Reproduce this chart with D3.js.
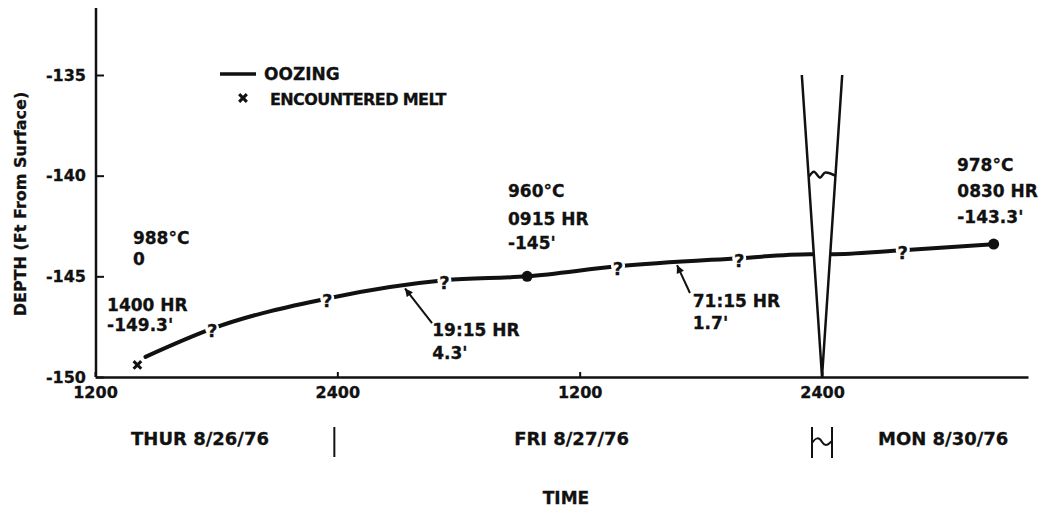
<!DOCTYPE html>
<html>
<head>
<meta charset="utf-8">
<script src="https://cdn.jsdelivr.net/npm/d3@7"></script>
<style>
body { margin: 0; background: #fff; }
text { font-family: "DejaVu Sans", sans-serif; font-weight: bold; fill: #111; stroke: #111; stroke-width: 0.3px; }
</style>
</head>
<body>
<script>
// hours after Thu 1200 (Mon 0000 is drawn right after Fri 2400, so Mon 0830 = 44.5)
var timeHr  = [2.5, 5.8, 11.5, 17.3, 21.4, 25.9, 31.9, 35.4, 36.4, 40.0, 44.5];
var depthFt = [-149.0, -147.6, -146.1, -145.2, -145.0, -144.5, -144.1, -143.9, -143.9, -143.7, -143.4];

var questionHr = [5.8, 11.5, 17.3, 25.9, 31.9, 40.0];   // "?" gaps on the curve
var dotHr = [21.4, 44.5];
var dotFt = [-145.0, -143.4];
var meltHr = [2.1];
var meltFt = [-149.4];

// oozing: the V and the level inside it
var oozeHr = [35.0, 36.0, 37.0];
var oozeFt = [-135, -150, -135];
var oozeLevelHr = [35.35, 35.6, 35.9, 36.15, 36.65];
var oozeLevelFt = [-140.05, -139.8, -140.1, -139.85, -140.0];

var xTicks = [0, 12, 24, 36];
var xTickLabels = ["1200", "2400", "1200", "2400"];
var yTicks = [-150, -145, -140, -135];

var dayLabels = ["THUR 8/26/76", "FRI 8/27/76", "MON 8/30/76"];
var dayHr = [5.2, 23.6, 42.0];

var noteText = ["988°C", "0", "1400 HR", "-149.3'", "19:15 HR", "4.3'",
                "960°C", "0915 HR", "-145'", "71:15 HR", "1.7'",
                "978°C", "0830 HR", "-143.3'"];
var noteHr = [1.88, 1.88, 0.6, 0.6, 16.7, 16.7, 20.45, 20.45, 20.45, 29.6, 29.6, 42.68, 42.7, 42.7];
var noteFt = [-143.12, -144.14, -146.42, -147.42, -147.67, -148.81,
              -140.76, -142.15, -143.34, -146.22, -147.32, -139.47, -140.76, -142.05];

// arrows: tail -> tip
var arrowTailHr = [16.69, 29.46];
var arrowTailFt = [-147.32, -145.83];
var arrowTipHr = [15.35, 28.82];
var arrowTipFt = [-145.6, -144.44];

var width = 1042, height = 512;

var xs = d3.scaleLinear().domain([0, 46.2]).range([95, 1028]);
var ys = d3.scaleLinear().domain([-150, -135]).range([377, 75]);
var depthAt = d3.scaleLinear().domain(timeHr).range(depthFt);

var svg = d3.select("body").append("svg")
    .attr("width", width)
    .attr("height", height);

var defs = svg.append("defs");

defs.append("marker")
    .attr("id", "head")
    .attr("viewBox", "0 0 10 10")
    .attr("refX", 10).attr("refY", 5)
    .attr("markerWidth", 9).attr("markerHeight", 8)
    .attr("markerUnits", "userSpaceOnUse")
    .attr("orient", "auto")
  .append("path")
    .attr("d", "M0,0L10,5L0,10z")
    .attr("fill", "#111");

// mask cuts the curve at the "?" and inside the V
var mask = defs.append("mask").attr("id", "gaps")
    .attr("maskUnits", "userSpaceOnUse")
    .attr("x", 0).attr("y", 0).attr("width", width).attr("height", height);
mask.append("rect").attr("width", width).attr("height", height).attr("fill", "white");
mask.selectAll("circle")
    .data(questionHr)
    .enter().append("circle")
    .attr("cx", d => xs(d))
    .attr("cy", d => ys(depthAt(d)))
    .attr("r", 7)
    .attr("fill", "black");
mask.append("path")
    .attr("d", "M" + oozeHr.map((h, i) => xs(h) + "," + ys(oozeFt[i])).join("L") + "Z")
    .attr("fill", "black");

// axes
var yAxis = d3.axisLeft(ys)
    .tickValues(yTicks)
    .tickFormat(d => "-" + Math.abs(d))
    .tickSizeInner(-8)
    .tickSizeOuter(0)
    .tickPadding(10);

var gy = svg.append("g")
    .attr("transform", "translate(96,0)")
    .call(yAxis);
gy.select(".domain").remove();
gy.selectAll("line").attr("stroke", "#111").attr("stroke-width", 2);
gy.selectAll("text").style("font-size", "16px").attr("fill", "#111");
gy.append("line")
    .attr("x1", 0).attr("x2", 0)
    .attr("y1", 8).attr("y2", ys(-150))
    .attr("stroke", "#111").attr("stroke-width", 2.5);

var xAxis = d3.axisBottom(xs)
    .tickValues(xTicks)
    .tickFormat((d, i) => xTickLabels[i])
    .tickSizeInner(-5)
    .tickSizeOuter(0)
    .tickPadding(10);

var gx = svg.append("g")
    .attr("transform", "translate(0," + ys(-150) + ")")
    .call(xAxis);
gx.select(".domain").attr("stroke", "#111").attr("stroke-width", 2.5);
gx.selectAll("line").attr("stroke", "#111").attr("stroke-width", 2);
gx.selectAll("text").style("font-size", "16px").attr("fill", "#111");

// main curve
var line = d3.line()
    .x(d => xs(d[0]))
    .y(d => ys(d[1]))
    .curve(d3.curveMonotoneX);

svg.append("path")
    .datum(timeHr.map((h, i) => [h, depthFt[i]]))
    .attr("d", line)
    .attr("fill", "none")
    .attr("stroke", "#111")
    .attr("stroke-width", 4)
    .attr("stroke-linecap", "round")
    .attr("mask", "url(#gaps)");

svg.selectAll(".q")
    .data(questionHr)
    .enter().append("text")
    .attr("class", "q")
    .attr("x", d => xs(d))
    .attr("y", d => ys(depthAt(d)) + 2)
    .attr("text-anchor", "middle")
    .attr("dominant-baseline", "central")
    .style("font-size", "18px")
    .text("?");

svg.selectAll(".dot")
    .data(dotHr)
    .enter().append("circle")
    .attr("class", "dot")
    .attr("cx", d => xs(d))
    .attr("cy", (d, i) => ys(dotFt[i]))
    .attr("r", 5.5)
    .attr("fill", "#111");

var xMark = d3.symbol().type(d3.symbolX).size(40);
svg.selectAll(".melt")
    .data(meltHr)
    .enter().append("path")
    .attr("class", "melt")
    .attr("d", xMark)
    .attr("transform", (d, i) => "translate(" + xs(d) + "," + ys(meltFt[i]) + ")")
    .attr("fill", "none")
    .attr("stroke", "#111")
    .attr("stroke-width", 3);

// oozing V
svg.append("path")
    .datum(oozeHr.map((h, i) => [h, oozeFt[i]]))
    .attr("d", d3.line().x(d => xs(d[0])).y(d => ys(d[1])))
    .attr("fill", "none")
    .attr("stroke", "#111")
    .attr("stroke-width", 2.5);

svg.append("path")
    .datum(oozeLevelHr.map((h, i) => [h, oozeLevelFt[i]]))
    .attr("d", d3.line().x(d => xs(d[0])).y(d => ys(d[1])).curve(d3.curveCatmullRom))
    .attr("fill", "none")
    .attr("stroke", "#111")
    .attr("stroke-width", 2.5);

// notes
svg.selectAll(".note")
    .data(noteText)
    .enter().append("text")
    .attr("class", "note")
    .attr("x", (d, i) => xs(noteHr[i]))
    .attr("y", (d, i) => ys(noteFt[i]))
    .attr("dominant-baseline", "central")
    .style("font-size", "17px")
    .text(d => d);

svg.selectAll(".arrow")
    .data(arrowTailHr)
    .enter().append("line")
    .attr("class", "arrow")
    .attr("x1", d => xs(d))
    .attr("y1", (d, i) => ys(arrowTailFt[i]))
    .attr("x2", (d, i) => xs(arrowTipHr[i]))
    .attr("y2", (d, i) => ys(arrowTipFt[i]))
    .attr("stroke", "#111")
    .attr("stroke-width", 2)
    .attr("marker-end", "url(#head)");

// legend
var legend = svg.append("g");
legend.append("line")
    .attr("x1", 220).attr("x2", 256)
    .attr("y1", 74).attr("y2", 74)
    .attr("stroke", "#111").attr("stroke-width", 3.5);
legend.append("text")
    .attr("x", 264).attr("y", 74)
    .attr("dominant-baseline", "central")
    .style("font-size", "17px")
    .text("OOZING");
legend.append("path")
    .attr("d", xMark)
    .attr("transform", "translate(243,98)")
    .attr("fill", "none").attr("stroke", "#111").attr("stroke-width", 3);
legend.append("text")
    .attr("x", 270).attr("y", 99)
    .attr("dominant-baseline", "central")
    .style("font-size", "16px")
    .style("letter-spacing", "-0.6px")
    .text("ENCOUNTERED MELT");

// day row
svg.selectAll(".day")
    .data(dayLabels)
    .enter().append("text")
    .attr("class", "day")
    .attr("x", (d, i) => xs(dayHr[i]))
    .attr("y", 438)
    .attr("text-anchor", "middle")
    .attr("dominant-baseline", "central")
    .style("font-size", "18px")
    .text(d => d);

svg.append("line")
    .attr("x1", xs(12) - 3).attr("x2", xs(12) - 3)
    .attr("y1", 427).attr("y2", 457)
    .attr("stroke", "#111").attr("stroke-width", 2);

var bx = xs(36);
svg.append("path")
    .attr("d", "M" + (bx - 10) + ",427V458M" + (bx + 10) + ",427V458" +
               "M" + (bx - 10) + ",443C" + (bx - 6) + ",437 " + (bx - 3) + ",437 " + bx + ",442" +
               "C" + (bx + 3) + ",447 " + (bx + 6) + ",445 " + (bx + 10) + ",441")
    .attr("fill", "none")
    .attr("stroke", "#111").attr("stroke-width", 2);

// axis titles
svg.append("text")
    .attr("transform", "translate(20,204) rotate(-90)")
    .attr("text-anchor", "middle")
    .attr("dominant-baseline", "central")
    .style("font-size", "16px")
    .text("DEPTH (Ft From Surface)");

svg.append("text")
    .attr("x", 566).attr("y", 498)
    .attr("text-anchor", "middle")
    .attr("dominant-baseline", "central")
    .style("font-size", "17px")
    .text("TIME");
</script>
</body>
</html>
